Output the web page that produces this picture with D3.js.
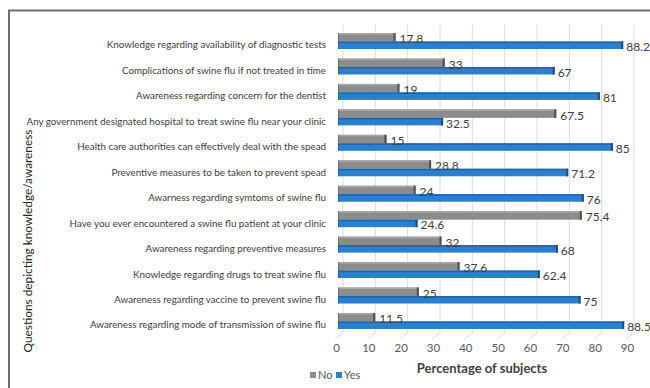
<!DOCTYPE html>
<html><head><meta charset="utf-8">
<script src="https://cdn.jsdelivr.net/npm/d3@7"></script>
<style>body{margin:0;background:#fff}svg{display:block}</style>
</head><body>
<svg id="c" width="650" height="388"></svg>
<script>
const categories = [
  "Knowledge regarding availability of diagnostic tests",
  "Complications of swine flu if not treated in time",
  "Awareness regarding concern for the dentist",
  "Any government designated hospital to treat swine flu near your clinic",
  "Health care authorities can effectively deal with the spead",
  "Preventive measures to be taken to prevent spead",
  "Awarness  regarding symtoms of swine flu",
  "Have you ever encountered a swine flu patient at your clinic",
  "Awareness regarding preventive measures",
  "Knowledge regarding drugs to treat swine flu",
  "Awareness regarding vaccine to prevent swine flu",
  "Awareness regarding mode of transmission of swine flu"
];
const noValues  = [17.8, 33, 19, 67.5, 15, 28.8, 24, 75.4, 32, 37.6, 25, 11.5];
const yesValues = [88.2, 67, 81, 32.5, 85, 71.2, 76, 24.6, 68, 62.4, 75, 88.5];
const xTicks = [0,10,20,30,40,50,60,70,80,90];
const seriesNames = ["No","Yes"];
const xTitle = "Percentage of subjects";
const yTitle = "Questions depicting knowledge/awareness";

const svg = d3.select("#c");
const font = "Lato, 'Open Sans', sans-serif";
const x = d3.scaleLinear().domain([0,90]).range([338, 629]);
const y = d3.scaleBand().domain(categories).range([32.3, 337.7]);
const colNo = "#8c8c8c", colNoTop = "#a9a9a9", colNoEnd = "#505050";
const colYes = "#2b7fcf", colYesTop = "#1d64ad", colYesEnd = "#174f8a";

// frame (left and top)
svg.append("path").attr("d","M9,388 V10.5 H650").attr("fill","none")
  .attr("stroke","#6e6e6e").attr("stroke-width",2);

// gridlines (back wall) and floor marks
const g = svg.append("g");
g.selectAll("line.grid").data(xTicks).join("line").attr("class","grid")
  .attr("x1",d=>x(d)+5).attr("x2",d=>x(d)+5).attr("y1",25).attr("y2",333)
  .attr("stroke","#dcdcdc").attr("stroke-width",1);
g.selectAll("line.floor").data(xTicks).join("line").attr("class","floor")
  .attr("x1",d=>x(d)+5).attr("x2",d=>x(d)-3).attr("y1",333).attr("y2",339)
  .attr("stroke","#d9d9d9").attr("stroke-width",1);

// x axis labels via d3 axis
const ax = svg.append("g").attr("transform","translate(-2,344)")
  .call(d3.axisBottom(x).tickValues(xTicks).tickSize(0).tickPadding(0));
ax.select(".domain").remove();
ax.selectAll("text").attr("font-family",font).attr("font-size",11.5).attr("fill","#595959");

// category labels
const labs = svg.append("g").selectAll("text").data(categories).join("text")
  .attr("x",326).attr("y",d=>y(d)+y.bandwidth()/2).attr("dy","0.35em")
  .attr("text-anchor","end").attr("font-family",font).attr("font-size",11)
  .attr("fill","#404040").text(d=>d);
let maxW = 0; labs.each(function(){ maxW = Math.max(maxW, this.getComputedTextLength()); });
labs.attr("font-size",11*300/maxW);

// bars
function drawBars(vals, dy, h, face, top, end){
  const gb = svg.append("g");
  const data = categories.map((c,i)=>({c, v: vals[i]}));
  gb.selectAll("rect.f").data(data).join("rect")
    .attr("x",x(0)).attr("y",d=>y(d.c)+y.bandwidth()/2+dy)
    .attr("width",d=>x(d.v)-x(0)).attr("height",h).attr("fill",face);
  gb.selectAll("rect.t").data(data).join("rect")
    .attr("x",x(0)).attr("y",d=>y(d.c)+y.bandwidth()/2+dy)
    .attr("width",d=>x(d.v)-x(0)).attr("height",1.5).attr("fill",top);
  gb.selectAll("rect.e").data(data).join("rect")
    .attr("x",d=>x(d.v)-2).attr("y",d=>y(d.c)+y.bandwidth()/2+dy)
    .attr("width",2).attr("height",h).attr("fill",end);
  gb.selectAll("rect.l").data(data).join("rect")
    .attr("x",x(0)).attr("y",d=>y(d.c)+y.bandwidth()/2+dy)
    .attr("width",1).attr("height",h).attr("fill",end).attr("opacity",0.5);
}
drawBars(noValues, -12, 8.5, colNo, colNoTop, colNoEnd);
drawBars(yesValues, -3.5, 7.5, colYes, colYesTop, colYesEnd);

// value labels
svg.append("g").selectAll("text").data(categories).join("text")
  .attr("x",(d,i)=>x(noValues[i])+4).attr("y",d=>y(d)+y.bandwidth()/2-6).attr("dy","0.35em")
  .attr("font-family",font).attr("font-size",12).attr("fill","#404040")
  .text((d,i)=>noValues[i]);
svg.append("g").selectAll("text").data(categories).join("text")
  .attr("x",(d,i)=>x(yesValues[i])+3).attr("y",d=>y(d)+y.bandwidth()/2+2).attr("dy","0.35em")
  .attr("font-family",font).attr("font-size",12).attr("fill","#404040")
  .text((d,i)=>yesValues[i]);

// axis titles
svg.append("text").attr("x",482).attr("y",368).attr("dy","0.35em").attr("text-anchor","middle")
  .attr("font-family",font).attr("font-size",13).attr("font-weight","bold").attr("fill","#404040")
  .text(xTitle);
const yt = svg.append("text").attr("transform","translate(28,241) rotate(-90)").attr("dy","0.35em")
  .attr("text-anchor","middle").attr("font-family",font).attr("font-size",13)
  .attr("fill","#262626").text(yTitle);
yt.attr("font-size", 13*223/yt.node().getComputedTextLength());

// legend
const lg = svg.append("g");
const legX = [310, 336];
const legCol = [colNo, colYes];
seriesNames.forEach((n,i)=>{
  lg.append("rect").attr("x",legX[i]).attr("y",372).attr("width",6).attr("height",6).attr("fill",legCol[i]);
  lg.append("text").attr("x",legX[i]+8).attr("y",375).attr("dy","0.35em")
    .attr("font-family",font).attr("font-size",11).attr("fill","#595959").text(n);
});
</script>
</body></html>
